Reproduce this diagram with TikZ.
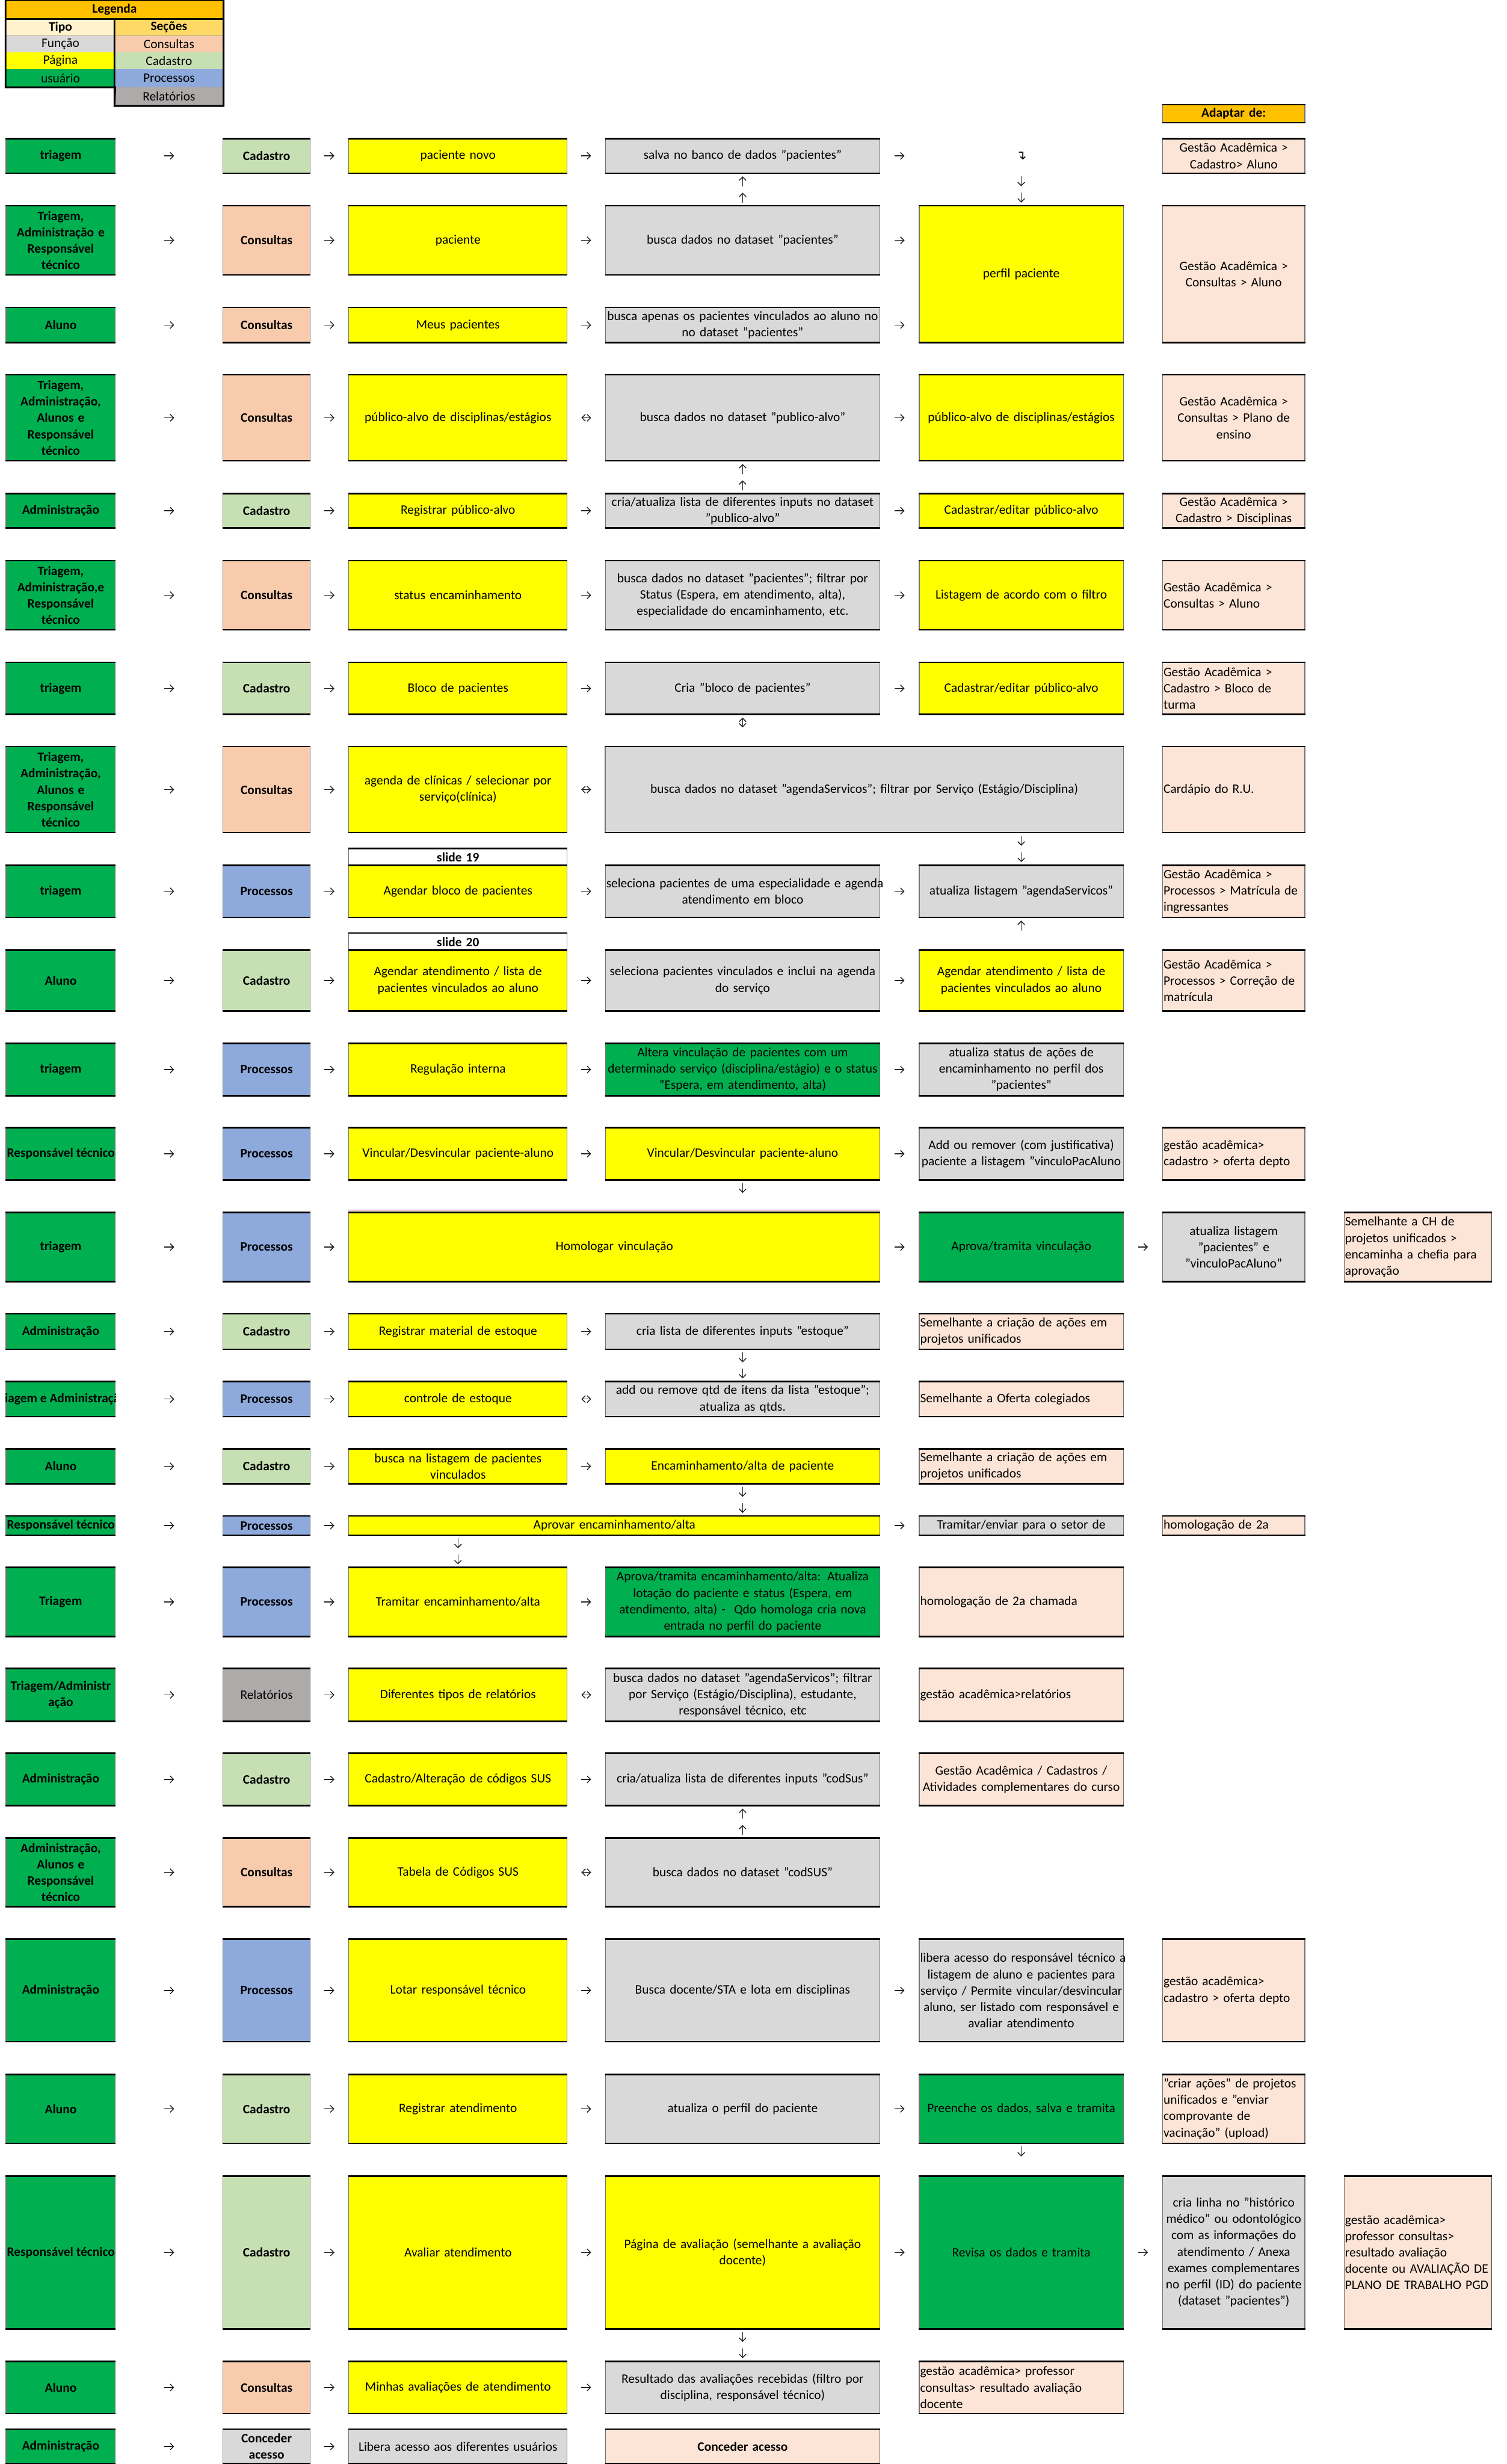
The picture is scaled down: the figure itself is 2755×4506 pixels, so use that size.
\documentclass[tikz,border=0pt]{standalone}
\usepackage{fontspec}
\setmainfont{Carlito}
\newfontfamily\glyphfont{DejaVu Sans}
\usetikzlibrary{calc,arrows.meta}
\hyphenpenalty=10000 \exhyphenpenalty=10000
\definecolor{usrgreen}{HTML}{00B050}
\definecolor{consul}{HTML}{F8CBAD}
\definecolor{cadas}{HTML}{C6E0B4}
\definecolor{proces}{HTML}{8EA9DB}
\definecolor{relat}{HTML}{AEAAAA}
\definecolor{funcgray}{HTML}{D9D9D9}
\definecolor{pageyel}{HTML}{FFFF00}
\definecolor{adapt}{HTML}{FCE4D6}
\definecolor{legorange}{HTML}{FFC000}
\definecolor{tipobg}{HTML}{FFF2CC}
\definecolor{secbg}{HTML}{FFD966}
\newcommand{\cellfont}{\fontsize{6.7}{8.5}\selectfont}
\tikzset{
 rulestroke/.style={draw=black,line width=0.8pt},
 rules/.style={append after command={(\tikzlastnode.north west) edge[rulestroke] (\tikzlastnode.north east) (\tikzlastnode.south west) edge[rulestroke] (\tikzlastnode.south east)}},
 blank/.style={inner xsep=0.5pt,inner ysep=0pt,align=center,font=\cellfont},
 leg/.style={blank,fill=#1},
 cell/.style={draw=black!55,line width=0.35pt,inner xsep=0.5pt,inner ysep=0pt,align=center,font=\cellfont,rules},
 usr/.style={cell,fill=usrgreen,font=\cellfont\bfseries},
 usrtxt/.style={inner sep=0.5pt,font=\cellfont\bfseries},
 secc/.style={cell,fill=consul,font=\cellfont\bfseries},
 secd/.style={cell,fill=cadas,font=\cellfont\bfseries},
 secp/.style={cell,fill=proces,font=\cellfont\bfseries},
 secr/.style={cell,fill=relat},
 page/.style={cell,fill=pageyel},
 func/.style={cell,fill=funcgray},
 act/.style={cell,fill=usrgreen},
 adp/.style={cell,fill=adapt,align=left},
 adpc/.style={cell,fill=adapt},
 slide/.style={cell,fill=white,font=\cellfont\bfseries},
 flow/.style={-{Straight Barb[length=1.8pt,width=3.6pt]},draw=black!85,line width=0.45pt},
 flowup/.style={{Straight Barb[length=1.8pt,width=3.6pt]}-,draw=black!85,line width=0.45pt},
 flowboth/.style={{Straight Barb[length=1.8pt,width=3.6pt]}-{Straight Barb[length=1.8pt,width=3.6pt]},draw=black!85,line width=0.45pt}
}
\newcommand{\cell}[7]{\pgfmathsetmacro{\cellw}{(#5-#3)*0.2845274}\pgfmathsetmacro{\cellh}{(#6-#4)*0.2845274}\pgfmathsetmacro{\celltw}{\cellw-1}%
\node[#2,minimum width=\cellw pt,minimum height=\cellh pt,text width=\celltw pt] (#1) at ({(#3+#5)/2},{(#4+#6)/2}) {#7};}
\newcommand{\clipcell}[4]{\begin{scope}\clip (#1.south west) rectangle (#1.north east);\node[#2,anchor=#3] (#1t) at (#1.#3) {#4};\end{scope}}
\newcommand{\harr}[3][flow]{\draw[#1] ($(#2.east)!.5!(#2.east -| #3.west)$) +(-9,0) -- +(9,0);}
\newcommand{\varr}[5][flow]{\draw[#1] ($(#2 |- #3.south)!#5!(#2 |- #4.north)$) +(0,-9) -- +(0,9);}

\begin{document}
\begin{tikzpicture}[x=0.01cm,y=-0.01cm]
\useasboundingbox (0,0) rectangle (2755,4506);

\cell{legh}{leg=legorange,font=\cellfont\bfseries}{11}{1}{408}{34}{Legenda}
\cell{ltipo}{leg=tipobg,font=\cellfont\bfseries}{11}{35}{210}{65}{Tipo}
\cell{lsec}{leg=secbg,font=\cellfont\bfseries}{210}{35}{408}{65}{Seções}
\cell{lfun}{leg=funcgray}{11}{65}{210}{96}{Função}
\cell{lcon}{leg=consul}{210}{65}{408}{96}{Consultas}
\cell{lpag}{leg=pageyel}{11}{96}{210}{127}{Página}
\cell{lcad}{leg=cadas}{210}{96}{408}{127}{Cadastro}
\cell{lusr}{leg=usrgreen}{11}{127}{210}{159}{usuário}
\cell{lpro}{leg=proces}{210}{127}{408}{159}{Processos}
\cell{lrel}{leg=relat}{210}{159}{408}{193}{Relatórios}
\draw[black!35,line width=0.3pt] (ltipo.south west) -- (lsec.south east);
\draw[black,line width=0.9pt] (legh.north west) -- (legh.north east) -- (lrel.south east) -- (lrel.south west) -- (lusr.south east) -- (lusr.south west) -- cycle (legh.south west) -- (legh.south east) (lsec.north west) -- (lrel.south west);

\cell{adapt}{cell,fill=legorange,font=\cellfont\bfseries}{2126}{192}{2386}{224}{Adaptar de:}

\cell{a1}{usr}{11}{254}{211}{316}{triagem}
\cell{b1}{secd}{408}{254}{567}{316}{Cadastro}
\cell{c1}{page}{638}{254}{1037}{316}{paciente novo}
\cell{d1}{func}{1107}{254}{1609}{316}{salva no banco de dados "pacientes"}
\cell{e1}{blank}{1681}{254}{2054}{316}{\glyphfont ↴}
\cell{f1}{adpc}{2126}{254}{2386}{316}{Gestão Acadêmica >\\Cadastro> Aluno}
\harr{a1}{b1}\harr{b1}{c1}\harr{c1}{d1}\harr{d1}{e1}

\cell{a2}{usr}{11}{377}{211}{502}{Triagem,\\Administração e\\Responsável\\técnico}
\cell{b2}{secc}{408}{377}{567}{502}{Consultas}
\cell{c2}{page}{638}{377}{1037}{502}{paciente}
\cell{d2}{func}{1107}{377}{1609}{502}{busca dados no dataset "pacientes"}
\cell{e2}{page}{1681}{377}{2054}{626}{perfil paciente}
\cell{f2}{adpc}{2126}{377}{2386}{626}{Gestão Acadêmica >\\Consultas > Aluno}
\harr{a2}{b2}\harr{b2}{c2}\harr{c2}{d2}\harr{d2}{e2}
\varr[flowup]{d1}{d1}{d2}{.25}\varr[flowup]{d1}{d1}{d2}{.75}
\varr{e2}{e1}{e2}{.25}\varr{e2}{e1}{e2}{.75}

\cell{a3}{usr}{11}{563}{211}{626}{Aluno}
\cell{b3}{secc}{408}{563}{567}{626}{Consultas}
\cell{c3}{page}{638}{563}{1037}{626}{Meus pacientes}
\cell{d3}{func}{1107}{563}{1609}{626}{\mbox{busca apenas os pacientes vinculados ao aluno no}\\no dataset "pacientes"}
\harr{a3}{b3}\harr{b3}{c3}\harr{c3}{d3}\harr{d3}{e2}

\cell{a4}{usr}{11}{686}{211}{842}{Triagem,\\Administração,\\Alunos e\\Responsável\\técnico}
\cell{b4}{secc}{408}{686}{567}{842}{Consultas}
\cell{c4}{page}{638}{686}{1037}{842}{público-alvo de disciplinas/estágios}
\cell{d4}{func}{1107}{686}{1609}{842}{busca dados no dataset "publico-alvo"}
\cell{e4}{page}{1681}{686}{2054}{842}{público-alvo de disciplinas/estágios}
\cell{f4}{adpc}{2126}{686}{2386}{842}{Gestão Acadêmica >\\Consultas > Plano de\\ensino}
\harr{a4}{b4}\harr{b4}{c4}\harr[flowboth]{c4}{d4}\harr{d4}{e4}

\cell{a5}{usr}{11}{903}{211}{965}{Administração}
\cell{b5}{secd}{408}{903}{567}{965}{Cadastro}
\cell{c5}{page}{638}{903}{1037}{965}{Registrar público-alvo}
\cell{d5}{func}{1107}{903}{1609}{965}{\mbox{cria/atualiza lista de diferentes inputs no dataset}\\"publico-alvo"}
\cell{e5}{page}{1681}{903}{2054}{965}{Cadastrar/editar público-alvo}
\cell{f5}{adpc}{2126}{903}{2386}{965}{Gestão Acadêmica >\\Cadastro > Disciplinas}
\harr{a5}{b5}\harr{b5}{c5}\harr{c5}{d5}\harr{d5}{e5}
\varr[flowup]{d4}{d4}{d5}{.25}\varr[flowup]{d4}{d4}{d5}{.75}

\cell{a6}{usr}{11}{1026}{211}{1151}{Triagem,\\Administração,e\\Responsável\\técnico}
\cell{b6}{secc}{408}{1026}{567}{1151}{Consultas}
\cell{c6}{page}{638}{1026}{1037}{1151}{status encaminhamento}
\cell{d6}{func}{1107}{1026}{1609}{1151}{busca dados no dataset "pacientes"; filtrar por\\Status (Espera, em atendimento, alta),\\especialidade do encaminhamento, etc.}
\cell{e6}{page}{1681}{1026}{2054}{1151}{Listagem de acordo com o filtro}
\cell{f6}{adp}{2126}{1026}{2386}{1151}{Gestão Acadêmica >\\Consultas > Aluno}
\harr{a6}{b6}\harr{b6}{c6}\harr{c6}{d6}\harr{d6}{e6}

\cell{a7}{usr}{11}{1212}{211}{1306}{triagem}
\cell{b7}{secd}{408}{1212}{567}{1306}{Cadastro}
\cell{c7}{page}{638}{1212}{1037}{1306}{Bloco de pacientes}
\cell{d7}{func}{1107}{1212}{1609}{1306}{Cria "bloco de pacientes"}
\cell{e7}{page}{1681}{1212}{2054}{1306}{Cadastrar/editar público-alvo}
\cell{f7}{adp}{2126}{1212}{2386}{1306}{Gestão Acadêmica >\\Cadastro > Bloco de\\turma}
\harr{a7}{b7}\harr{b7}{c7}\harr{c7}{d7}\harr{d7}{e7}

\cell{a8}{usr}{11}{1366}{211}{1522}{Triagem,\\Administração,\\Alunos e\\Responsável\\técnico}
\cell{b8}{secc}{408}{1366}{567}{1522}{Consultas}
\cell{c8}{page}{638}{1366}{1037}{1522}{agenda de clínicas / selecionar por\\serviço(clínica)}
\cell{de8}{func}{1107}{1366}{2054}{1522}{busca dados no dataset "agendaServicos"; filtrar por Serviço (Estágio/Disciplina)}
\cell{f8}{adp}{2126}{1366}{2386}{1522}{Cardápio do R.U.}
\harr{a8}{b8}\harr{b8}{c8}\harr[flowboth]{c8}{de8}
\varr[flowboth]{d7}{d7}{de8}{.25}

\cell{s19}{slide}{638}{1552}{1037}{1583}{slide 19}
\cell{a9}{usr}{11}{1583}{211}{1677}{triagem}
\cell{b9}{secp}{408}{1583}{567}{1677}{Processos}
\cell{c9}{page}{638}{1583}{1037}{1677}{Agendar bloco de pacientes}
\cell{d9}{func}{1107}{1583}{1609}{1677}{\mbox{seleciona pacientes de uma especialidade e agenda}\\atendimento em bloco}
\cell{e9}{func}{1681}{1583}{2054}{1677}{atualiza listagem "agendaServicos"}
\cell{f9}{adp}{2126}{1583}{2386}{1677}{Gestão Acadêmica >\\Processos > Matrícula de\\ingressantes}
\harr{a9}{b9}\harr{b9}{c9}\harr{c9}{d9}\harr{d9}{e9}
\varr{e9}{de8}{e9}{.25}\varr{e9}{de8}{e9}{.75}

\cell{s20}{slide}{638}{1707}{1037}{1738}{slide 20}
\cell{a10}{usr}{11}{1738}{211}{1848}{Aluno}
\cell{b10}{secd}{408}{1738}{567}{1848}{Cadastro}
\cell{c10}{page}{638}{1738}{1037}{1848}{Agendar atendimento / lista de\\pacientes vinculados ao aluno}
\cell{d10}{func}{1107}{1738}{1609}{1848}{\mbox{seleciona pacientes vinculados e inclui na agenda}\\do serviço}
\cell{e10}{page}{1681}{1738}{2054}{1848}{Agendar atendimento / lista de\\pacientes vinculados ao aluno}
\cell{f10}{adp}{2126}{1738}{2386}{1848}{Gestão Acadêmica >\\Processos > Correção de\\matrícula}
\harr{a10}{b10}\harr{b10}{c10}\harr{c10}{d10}\harr{d10}{e10}
\varr[flowup]{e9}{e9}{e10}{.25}

\cell{a11}{usr}{11}{1909}{211}{2003}{triagem}
\cell{b11}{secp}{408}{1909}{567}{2003}{Processos}
\cell{c11}{page}{638}{1909}{1037}{2003}{Regulação interna}
\cell{d11}{act}{1107}{1909}{1609}{2003}{Altera vinculação de pacientes com um\\\mbox{determinado serviço (disciplina/estágio) e o status}\\"Espera, em atendimento, alta)}
\cell{e11}{func}{1681}{1909}{2054}{2003}{atualiza status de ações de\\encaminhamento no perfil dos\\"pacientes"}
\harr{a11}{b11}\harr{b11}{c11}\harr{c11}{d11}\harr{d11}{e11}

\cell{a12}{usr}{11}{2063}{211}{2157}{}
\clipcell{a12}{usrtxt}{west}{Responsável técnico}
\cell{b12}{secp}{408}{2063}{567}{2157}{Processos}
\cell{c12}{page}{638}{2063}{1037}{2157}{Vincular/Desvincular paciente-aluno}
\cell{d12}{page}{1107}{2063}{1609}{2157}{Vincular/Desvincular paciente-aluno}
\cell{e12}{func}{1681}{2063}{2054}{2157}{\mbox{Add ou remover (com justificativa)}\\\mbox{paciente a listagem "vinculoPacAluno}}
\cell{f12}{adp}{2126}{2063}{2386}{2157}{gestão acadêmica>\\cadastro > oferta depto}
\harr{a12}{b12}\harr{b12}{c12}\harr{c12}{d12}\harr{d12}{e12}

\cell{a13}{usr}{11}{2218}{211}{2343}{triagem}
\cell{b13}{secp}{408}{2218}{567}{2343}{Processos}
\cell{cd13}{page}{638}{2218}{1609}{2343}{Homologar vinculação}
\draw[red!75!black,line width=0.5pt] ([yshift=1.3pt]cd13.north west) -- ([yshift=1.3pt]cd13.north east);
\cell{e13}{act}{1681}{2218}{2054}{2343}{Aprova/tramita vinculação}
\cell{f13}{func}{2126}{2218}{2386}{2343}{atualiza listagem\\"pacientes" e\\"vinculoPacAluno"}
\cell{g13}{adp}{2458}{2218}{2727}{2343}{Semelhante a CH de\\projetos unificados >\\encaminha a chefia para\\aprovação}
\harr{a13}{b13}\harr{b13}{cd13}\harr{cd13}{e13}\harr{e13}{f13}
\varr{d12}{d12}{cd13}{.25}

\cell{a14}{usr}{11}{2403}{211}{2467}{Administração}
\cell{b14}{secd}{408}{2403}{567}{2467}{Cadastro}
\cell{c14}{page}{638}{2403}{1037}{2467}{Registrar material de estoque}
\cell{d14}{func}{1107}{2403}{1609}{2467}{cria lista de diferentes inputs "estoque"}
\cell{e14}{adp}{1681}{2403}{2054}{2467}{Semelhante a criação de ações em\\projetos unificados}
\harr{a14}{b14}\harr{b14}{c14}\harr{c14}{d14}

\cell{a15}{usr}{11}{2527}{211}{2590}{}
\clipcell{a15}{usrtxt}{center}{Triagem e Administração}
\cell{b15}{secp}{408}{2527}{567}{2590}{Processos}
\cell{c15}{page}{638}{2527}{1037}{2590}{controle de estoque}
\cell{d15}{func}{1107}{2527}{1609}{2590}{add ou remove qtd de itens da lista "estoque";\\atualiza as qtds.}
\cell{e15}{adp}{1681}{2527}{2054}{2590}{Semelhante a Oferta colegiados}
\harr{a15}{b15}\harr{b15}{c15}\harr[flowboth]{c15}{d15}
\varr{d14}{d14}{d15}{.25}\varr{d14}{d14}{d15}{.75}

\cell{a16}{usr}{11}{2650}{211}{2713}{Aluno}
\cell{b16}{secd}{408}{2650}{567}{2713}{Cadastro}
\cell{c16}{page}{638}{2650}{1037}{2713}{busca na listagem de pacientes\\vinculados}
\cell{d16}{page}{1107}{2650}{1609}{2713}{Encaminhamento/alta de paciente}
\cell{e16}{adp}{1681}{2650}{2054}{2713}{Semelhante a criação de ações em\\projetos unificados}
\harr{a16}{b16}\harr{b16}{c16}\harr{c16}{d16}

\cell{a17}{usr}{11}{2773}{211}{2807}{}
\clipcell{a17}{usrtxt}{west}{Responsável técnico}
\cell{b17}{secp}{408}{2773}{567}{2807}{Processos}
\cell{cd17}{page}{638}{2773}{1609}{2807}{Aprovar encaminhamento/alta}
\cell{e17}{func}{1681}{2773}{2054}{2807}{Tramitar/enviar para o setor de}
\cell{f17}{adp}{2126}{2773}{2386}{2807}{homologação de 2a}
\harr{a17}{b17}\harr{b17}{cd17}\harr{cd17}{e17}
\varr{d16}{d16}{cd17}{.25}\varr{d16}{d16}{cd17}{.75}

\cell{a18}{usr}{11}{2867}{211}{2992}{Triagem}
\cell{b18}{secp}{408}{2867}{567}{2992}{Processos}
\cell{c18}{page}{638}{2867}{1037}{2992}{Tramitar encaminhamento/alta}
\cell{d18}{act}{1107}{2867}{1609}{2992}{\mbox{Aprova/tramita encaminhamento/alta: Atualiza}\\lotação do paciente e status (Espera, em\\\mbox{atendimento, alta) -\ \ Qdo homologa cria nova}\\entrada no perfil do paciente}
\cell{e18}{adp}{1681}{2867}{2054}{2992}{homologação de 2a chamada}
\harr{a18}{b18}\harr{b18}{c18}\harr{c18}{d18}
\varr{c18}{cd17}{c18}{.25}\varr{c18}{cd17}{c18}{.75}

\cell{a19}{usr}{11}{3052}{211}{3147}{Triagem/Administr\\ação}
\cell{b19}{secr}{408}{3052}{567}{3147}{Relatórios}
\cell{c19}{page}{638}{3052}{1037}{3147}{Diferentes tipos de relatórios}
\cell{d19}{func}{1107}{3052}{1609}{3147}{\mbox{busca dados no dataset "agendaServicos"; filtrar}\\\mbox{por Serviço (Estágio/Disciplina), estudante,}\\responsável técnico, etc}
\cell{e19}{adp}{1681}{3052}{2054}{3147}{gestão acadêmica>relatórios}
\harr{a19}{b19}\harr{b19}{c19}\harr[flowboth]{c19}{d19}

\cell{a20}{usr}{11}{3207}{211}{3301}{Administração}
\cell{b20}{secd}{408}{3207}{567}{3301}{Cadastro}
\cell{c20}{page}{638}{3207}{1037}{3301}{Cadastro/Alteração de códigos SUS}
\cell{d20}{func}{1107}{3207}{1609}{3301}{cria/atualiza lista de diferentes inputs "codSus"}
\cell{e20}{adpc}{1681}{3207}{2054}{3301}{Gestão Acadêmica / Cadastros /\\\mbox{Atividades complementares do curso}}
\harr{a20}{b20}\harr{b20}{c20}\harr{c20}{d20}

\cell{a21}{usr}{11}{3362}{211}{3486}{Administração,\\Alunos e\\Responsável\\técnico}
\cell{b21}{secc}{408}{3362}{567}{3486}{Consultas}
\cell{c21}{page}{638}{3362}{1037}{3486}{Tabela de Códigos SUS}
\cell{d21}{func}{1107}{3362}{1609}{3486}{busca dados no dataset "codSUS"}
\harr{a21}{b21}\harr{b21}{c21}\harr[flowboth]{c21}{d21}
\varr[flowup]{d20}{d20}{d21}{.25}\varr[flowup]{d20}{d20}{d21}{.75}

\cell{a22}{usr}{11}{3547}{211}{3733}{Administração}
\cell{b22}{secp}{408}{3547}{567}{3733}{Processos}
\cell{c22}{page}{638}{3547}{1037}{3733}{Lotar responsável técnico}
\cell{d22}{func}{1107}{3547}{1609}{3733}{Busca docente/STA e lota em disciplinas}
\cell{e22}{func}{1681}{3547}{2054}{3733}{\mbox{libera acesso do responsável técnico a}\\\mbox{listagem de aluno e pacientes para}\\\mbox{serviço / Permite vincular/desvincular}\\\mbox{aluno, ser listado com responsável e}\\avaliar atendimento}
\cell{f22}{adp}{2126}{3547}{2386}{3733}{gestão acadêmica>\\cadastro > oferta depto}
\harr{a22}{b22}\harr{b22}{c22}\harr{c22}{d22}\harr{d22}{e22}

\cell{a23}{usr}{11}{3794}{211}{3919}{Aluno}
\cell{b23}{secd}{408}{3794}{567}{3919}{Cadastro}
\cell{c23}{page}{638}{3794}{1037}{3919}{Registrar atendimento}
\cell{d23}{func}{1107}{3794}{1609}{3919}{atualiza o perfil do paciente}
\cell{e23}{act}{1681}{3794}{2054}{3919}{Preenche os dados, salva e tramita}
\cell{f23}{adp}{2126}{3794}{2386}{3919}{\mbox{"criar ações" de projetos}\\unificados e "enviar\\comprovante de\\vacinação" (upload)}
\harr{a23}{b23}\harr{b23}{c23}\harr{c23}{d23}\harr{d23}{e23}

\cell{a24}{usr}{11}{3980}{211}{4258}{}
\clipcell{a24}{usrtxt}{west}{Responsável técnico}
\cell{b24}{secd}{408}{3980}{567}{4258}{Cadastro}
\cell{c24}{page}{638}{3980}{1037}{4258}{Avaliar atendimento}
\cell{d24}{page}{1107}{3980}{1609}{4258}{Página de avaliação (semelhante a avaliação\\docente)}
\cell{e24}{act}{1681}{3980}{2054}{4258}{Revisa os dados e tramita}
\cell{f24}{func}{2126}{3980}{2386}{4258}{cria linha no "histórico\\médico" ou odontológico\\com as informações do\\atendimento / Anexa\\\mbox{exames complementares}\\\mbox{no perfil (ID) do paciente}\\(dataset "pacientes")}
\cell{g24}{adp}{2458}{3980}{2727}{4258}{gestão acadêmica>\\professor consultas>\\resultado avaliação\\\mbox{docente ou AVALIAÇÃO DE}\\\mbox{PLANO DE TRABALHO PGD}}
\harr{a24}{b24}\harr{b24}{c24}\harr{c24}{d24}\harr{d24}{e24}\harr{e24}{f24}
\varr{e23}{e23}{e24}{.25}

\cell{a25}{usr}{11}{4319}{211}{4413}{Aluno}
\cell{b25}{secc}{408}{4319}{567}{4413}{Consultas}
\cell{c25}{page}{638}{4319}{1037}{4413}{Minhas avaliações de atendimento}
\cell{d25}{func}{1107}{4319}{1609}{4413}{Resultado das avaliações recebidas (filtro por\\disciplina, responsável técnico)}
\cell{e25}{adp}{1681}{4319}{2054}{4413}{gestão acadêmica> professor\\consultas> resultado avaliação\\docente}
\harr{a25}{b25}\harr{b25}{c25}\harr{c25}{d25}
\varr{d24}{d24}{d25}{.25}\varr{d24}{d24}{d25}{.75}

\cell{a26}{usr}{11}{4443}{211}{4505}{Administração}
\cell{b26}{func,font=\cellfont\bfseries}{408}{4443}{567}{4505}{Conceder\\acesso}
\cell{c26}{func}{638}{4443}{1037}{4505}{Libera acesso aos diferentes usuários}
\cell{d26}{adpc,font=\cellfont\bfseries}{1107}{4443}{1609}{4505}{Conceder acesso}
\harr{a26}{b26}\harr{b26}{c26}
\end{tikzpicture}
\end{document}
